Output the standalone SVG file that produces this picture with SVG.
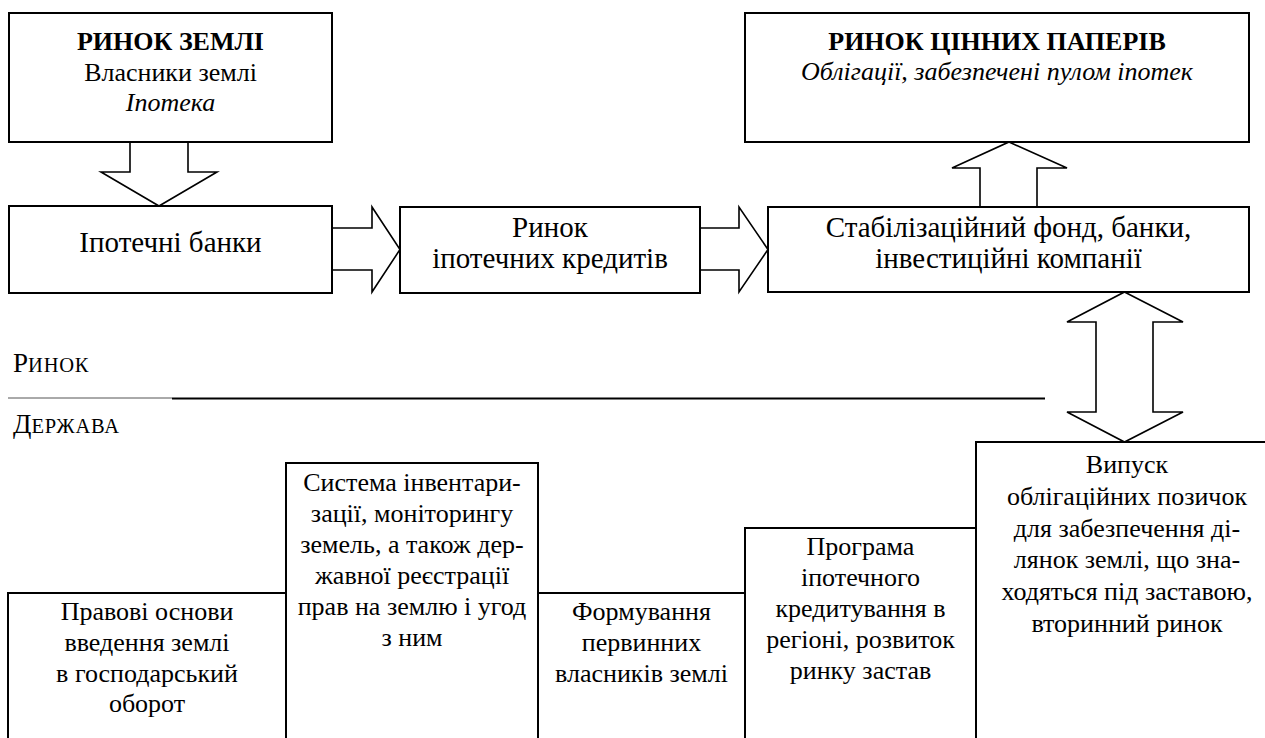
<svg xmlns="http://www.w3.org/2000/svg" width="1265" height="738" viewBox="0 0 1265 738">
<rect width="1265" height="738" fill="#fff"/>
<g id="connectors" fill="#fff" stroke="#000" stroke-width="1.6">
<polygon points="130,142 188,142 188,172 217,172 159,206 101,172 130,172"/>
<polygon points="332,228 372,228 372,207 400,249.5 372,292 372,270 332,270"/>
<polygon points="700,228 739,228 739,207 768,249.5 739,292 739,270 700,270"/>
<polygon points="1009,142 1067,168 1037,168 1037,207 980,207 980,168 952,168"/>
<polygon points="1124.5,292 1183,322 1153,322 1153,412 1183,412 1124.5,442 1067,412 1096,412 1096,322 1067,322"/>
</g>
<g id="divider">
<line x1="8" y1="398" x2="172" y2="398" stroke="#555" stroke-width="1"/>
<line x1="172" y1="398.5" x2="1045" y2="398.5" stroke="#000" stroke-width="2"/>
<g font-family="'Liberation Serif'">
<text x="13" y="372" font-size="27" font-family="'Liberation Serif'">Р<tspan font-size="20.5" letter-spacing="0.8">ИНОК</tspan></text>
<text x="13" y="433" font-size="27" font-family="'Liberation Serif'">Д<tspan font-size="20.5" letter-spacing="0.8">ЕРЖАВА</tspan></text>
</g>
</g>
<g id="land-market">
<rect x="9" y="13" width="323" height="129" fill="#fff" stroke="#000" stroke-width="2"/>
<g font-family="'Liberation Serif'" text-anchor="middle" font-size="26">
<text x="170.5" y="50" font-family="'Liberation Serif'" font-weight="bold">РИНОК ЗЕМЛІ</text>
<text x="170.5" y="81" font-family="'Liberation Serif'">Власники землі</text>
<text x="170.5" y="111" font-family="'Liberation Serif'" font-style="italic">Іпотека</text>
</g>
</g>
<g id="securities-market">
<rect x="745" y="13" width="504" height="129" fill="#fff" stroke="#000" stroke-width="2"/>
<g font-family="'Liberation Serif'" text-anchor="middle" font-size="26">
<text x="997" y="50" font-family="'Liberation Serif'" font-weight="bold">РИНОК ЦІННИХ ПАПЕРІВ</text>
<text x="997" y="80" font-family="'Liberation Serif'" font-style="italic">Облігації, забезпечені пулом іпотек</text>
</g>
</g>
<g id="mortgage-banks">
<rect x="9" y="206" width="323" height="87" fill="#fff" stroke="#000" stroke-width="2"/>
<g font-family="'Liberation Serif'" text-anchor="middle" font-size="29">
<text x="170.5" y="252" font-family="'Liberation Serif'">Іпотечні банки</text>
</g>
</g>
<g id="mortgage-credit-market">
<rect x="400" y="207" width="300" height="86" fill="#fff" stroke="#000" stroke-width="2"/>
<g font-family="'Liberation Serif'" text-anchor="middle" font-size="29">
<text x="550" y="237" font-family="'Liberation Serif'">Ринок</text>
<text x="550" y="268" font-family="'Liberation Serif'">іпотечних кредитів</text>
</g>
</g>
<g id="stabilization-fund">
<rect x="768" y="207" width="481" height="85" fill="#fff" stroke="#000" stroke-width="2"/>
<g font-family="'Liberation Serif'" text-anchor="middle" font-size="29">
<text x="1008.5" y="237" font-family="'Liberation Serif'">Стабілізаційний фонд, банки,</text>
<text x="1008.5" y="268" font-family="'Liberation Serif'">інвестиційні компанії</text>
</g>
</g>
<g id="legal-basis">
<rect x="8" y="593" width="278" height="160" fill="#fff" stroke="#000" stroke-width="2"/>
<g font-family="'Liberation Serif'" text-anchor="middle" font-size="26">
<text x="147" y="620" font-family="'Liberation Serif'">Правові основи</text>
<text x="147" y="651" font-family="'Liberation Serif'">введення землі</text>
<text x="147" y="682" font-family="'Liberation Serif'">в господарський</text>
<text x="147" y="712" font-family="'Liberation Serif'">оборот</text>
</g>
</g>
<g id="inventory-system">
<rect x="286" y="463" width="252" height="290" fill="#fff" stroke="#000" stroke-width="2"/>
<g font-family="'Liberation Serif'" text-anchor="middle" font-size="26">
<text x="412" y="491" font-family="'Liberation Serif'">Система інвентари-</text>
<text x="412" y="522" font-family="'Liberation Serif'">зації, моніторингу</text>
<text x="412" y="553" font-family="'Liberation Serif'">земель, а також дер-</text>
<text x="412" y="584" font-family="'Liberation Serif'">жавної реєстрації</text>
<text x="412" y="615" font-family="'Liberation Serif'">прав на землю і угод</text>
<text x="412" y="646" font-family="'Liberation Serif'">з ним</text>
</g>
</g>
<g id="primary-owners">
<rect x="538" y="593" width="207" height="160" fill="#fff" stroke="#000" stroke-width="2"/>
<g font-family="'Liberation Serif'" text-anchor="middle" font-size="26">
<text x="641.5" y="620" font-family="'Liberation Serif'">Формування</text>
<text x="641.5" y="651" font-family="'Liberation Serif'">первинних</text>
<text x="641.5" y="682" font-family="'Liberation Serif'">власників землі</text>
</g>
</g>
<g id="credit-program">
<rect x="745" y="528" width="231" height="225" fill="#fff" stroke="#000" stroke-width="2"/>
<g font-family="'Liberation Serif'" text-anchor="middle" font-size="26">
<text x="860.5" y="555" font-family="'Liberation Serif'">Програма</text>
<text x="860.5" y="586" font-family="'Liberation Serif'">іпотечного</text>
<text x="860.5" y="617" font-family="'Liberation Serif'">кредитування в</text>
<text x="860.5" y="648" font-family="'Liberation Serif'">регіоні, розвиток</text>
<text x="860.5" y="679" font-family="'Liberation Serif'">ринку застав</text>
</g>
</g>
<g id="bond-issue">
<rect x="976" y="442" width="320" height="311" fill="#fff" stroke="#000" stroke-width="2"/>
<g font-family="'Liberation Serif'" text-anchor="middle" font-size="26">
<text x="1127" y="473" font-family="'Liberation Serif'">Випуск</text>
<text x="1127" y="505" font-family="'Liberation Serif'">облігаційних позичок</text>
<text x="1127" y="537" font-family="'Liberation Serif'">для забезпечення ді-</text>
<text x="1127" y="568" font-family="'Liberation Serif'">лянок землі, що зна-</text>
<text x="1127" y="600" font-family="'Liberation Serif'">ходяться під заставою,</text>
<text x="1127" y="632" font-family="'Liberation Serif'">вторинний ринок</text>
</g>
</g>
</svg>
